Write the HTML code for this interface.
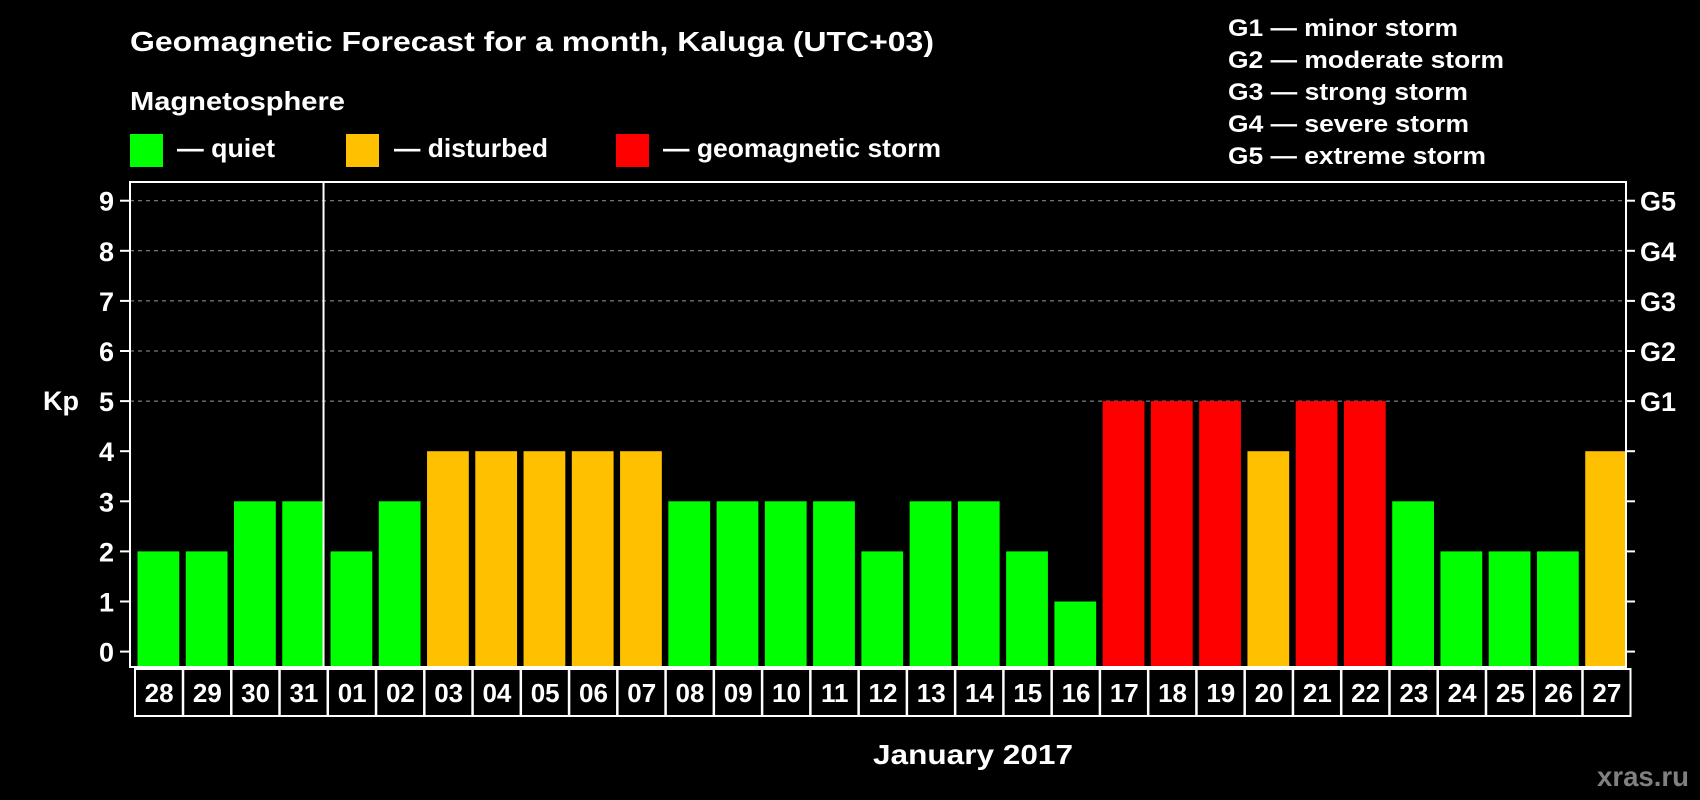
<!DOCTYPE html>
<html><head><meta charset="utf-8"><style>
html,body{margin:0;padding:0;background:#000;}
svg{display:block;font-family:"Liberation Sans",Arial,sans-serif;font-weight:bold;}
</style></head><body>
<svg id="chart" width="1700" height="800" viewBox="0 0 1700 800" xmlns="http://www.w3.org/2000/svg">
<rect width="1700" height="800" fill="#000"/>
<text x="130" y="51" font-size="28" fill="#fff" textLength="804" lengthAdjust="spacingAndGlyphs">Geomagnetic Forecast for a month, Kaluga (UTC+03)</text>
<text x="130" y="110" font-size="26" fill="#fff" textLength="215" lengthAdjust="spacingAndGlyphs">Magnetosphere</text>
<g>
<rect x="130" y="134" width="33" height="33" fill="#00ff00"/>
<text x="177" y="157" font-size="26" fill="#fff" textLength="98" lengthAdjust="spacingAndGlyphs">— quiet</text></g>
<g>
<rect x="346" y="134" width="33" height="33" fill="#ffc000"/>
<text x="394" y="157" font-size="26" fill="#fff" textLength="154" lengthAdjust="spacingAndGlyphs">— disturbed</text></g>
<g>
<rect x="616" y="134" width="33" height="33" fill="#ff0000"/>
<text x="663" y="157" font-size="26" fill="#fff" textLength="278" lengthAdjust="spacingAndGlyphs">— geomagnetic storm</text></g>
<g font-size="24" fill="#fff">
<text x="1228" y="36" textLength="230" lengthAdjust="spacingAndGlyphs">G1 — minor storm</text>
<text x="1228" y="68" textLength="276" lengthAdjust="spacingAndGlyphs">G2 — moderate storm</text>
<text x="1228" y="100" textLength="240" lengthAdjust="spacingAndGlyphs">G3 — strong storm</text>
<text x="1228" y="132" textLength="241" lengthAdjust="spacingAndGlyphs">G4 — severe storm</text>
<text x="1228" y="164" textLength="258" lengthAdjust="spacingAndGlyphs">G5 — extreme storm</text>
</g>
<g id="grid"></g><g id="bars"></g><g id="axes"></g><g id="xlabels"></g>
<text x="43" y="410" font-size="27" fill="#fff">Kp</text>
<text x="973" y="764" font-size="28" fill="#fff" text-anchor="middle" textLength="200" lengthAdjust="spacingAndGlyphs">January 2017</text>
<text x="1689" y="786" font-size="28" fill="#808080" text-anchor="end" textLength="92" lengthAdjust="spacingAndGlyphs">xras.ru</text>
</svg>
<script>
const categories = ["28","29","30","31","01","02","03","04","05","06","07","08","09","10","11","12","13","14","15","16","17","18","19","20","21","22","23","24","25","26","27"];
const kpValues = [2,2,3,3,2,3,4,4,4,4,4,3,3,3,3,2,3,3,2,1,5,5,5,4,5,5,3,2,2,2,4];
const yTicks = [0,1,2,3,4,5,6,7,8,9];
const gLabels = ["G1","G2","G3","G4","G5"];
const gLevels = [5,6,7,8,9];
const monthBreakIndex = 4;

const NS = "http://www.w3.org/2000/svg";
const L = 130, R = 1626, T = 182, B = 667;
const y0 = 651.6, yUnit = 50.1;
const step = (R - L) / categories.length;
function yS(v){ return y0 - v * yUnit; }
function xS(i){ return L + i * step; }
function mk(tag, attrs, parent){ const e = document.createElementNS(NS, tag); for (const k in attrs) e.setAttribute(k, attrs[k]); parent.appendChild(e); return e; }
function color(v){ return v >= 5 ? "#ff0000" : (v >= 4 ? "#ffc000" : "#00ff00"); }

const grid = document.getElementById("grid");
gLevels.forEach((lv) => {
  const ln = mk("line", {x1:L, x2:R, y1:yS(lv), y2:yS(lv), stroke:"#999", "stroke-width":1, "stroke-dasharray":"4,4"}, grid);
  
  
});

const bars = document.getElementById("bars");
kpValues.forEach((v, i) => {
  const r = mk("rect", {x:xS(i) + 7.5, y:yS(v), width:step - 6.5, height:B - yS(v), fill:color(v)}, bars);
  
  
});

const axes = document.getElementById("axes");
const box = mk("rect", {x:L, y:T, width:R - L, height:B - T, fill:"none", stroke:"#fff", "stroke-width":2}, axes);


const div = mk("line", {x1:xS(monthBreakIndex) + 0.5, x2:xS(monthBreakIndex) + 0.5, y1:T, y2:B, stroke:"#fff", "stroke-width":2}, axes);


yTicks.forEach((t) => {
  const tl = mk("line", {x1:L - 10, x2:L, y1:yS(t), y2:yS(t), stroke:"#fff", "stroke-width":2}, axes);
  
  
  const tr = mk("line", {x1:R, x2:R + 9, y1:yS(t), y2:yS(t), stroke:"#fff", "stroke-width":2}, axes);
  
  
  const tx = mk("text", {x:114, y:yS(t) + 10, "font-size":27, fill:"#fff", "text-anchor":"end"}, axes);
  tx.textContent = t;
  
  
});
gLabels.forEach((g, i) => {
  const tx = mk("text", {x:1640, y:yS(gLevels[i]) + 10, "font-size":27, fill:"#fff"}, axes);
  tx.textContent = g;
  
  
});

const xl = document.getElementById("xlabels");
categories.forEach((c, i) => {
  const bx = mk("rect", {x:xS(i) + 5, y:669, width:step - 0.5, height:47, fill:"none", stroke:"#fff", "stroke-width":2}, xl);
  
  
  const tx = mk("text", {x:xS(i) + 5 + step / 2, y:702, "font-size":26, fill:"#fff", "text-anchor":"middle"}, xl);
  tx.textContent = c;
  
  
});
</script>
</body></html>
